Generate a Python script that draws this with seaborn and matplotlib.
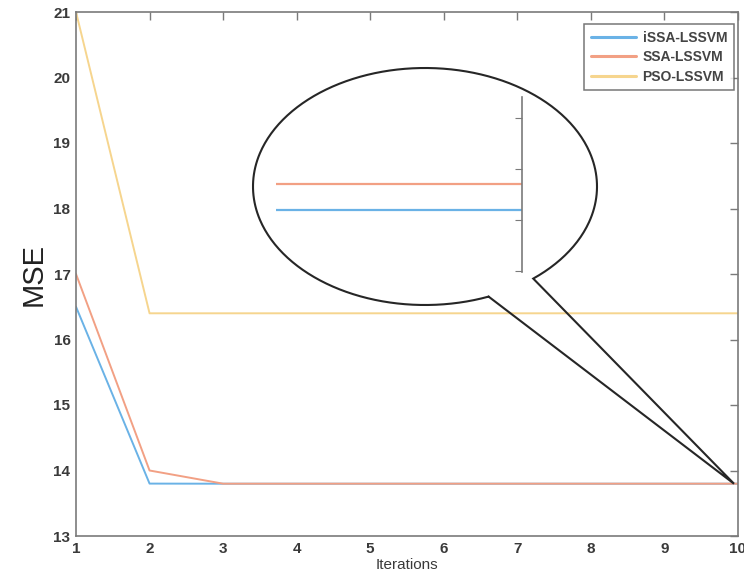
import numpy as np
import pandas as pd
import matplotlib
matplotlib.use("Agg")
import matplotlib.pyplot as plt
import seaborn as sns

# Data
iterations = [1, 2, 3, 4, 5, 6, 7, 8, 9, 10]
issa_lssvm = [16.5, 13.8, 13.7982, 13.7982, 13.7982, 13.7982, 13.7982, 13.7982, 13.7982, 13.7982]
ssa_lssvm = [17.0, 14.0, 13.7987, 13.7987, 13.7987, 13.7987, 13.7987, 13.7987, 13.7987, 13.7987]
pso_lssvm = [21.0, 16.4, 16.4, 16.4, 16.4, 16.4, 16.4, 16.4, 16.4, 16.4]
series_names = ["iSSA-LSSVM", "SSA-LSSVM", "PSO-LSSVM"]
colors = ["#6AB2E6", "#F2A084", "#F6D58E"]
inset_yticks = [13.797, 13.798, 13.799, 13.800]

df = pd.DataFrame({
    "Iterations": iterations * 3,
    "MSE": issa_lssvm + ssa_lssvm + pso_lssvm,
    "Model": [series_names[0]] * 10 + [series_names[1]] * 10 + [series_names[2]] * 10,
})

sns.set_style("white")
plt.rcParams["font.family"] = ["Liberation Sans", "DejaVu Sans"]
axis_gray = "#7a7a7a"
text_col = "#3a3a3a"

W, H = 744, 583
fig = plt.figure(figsize=(W / 100, H / 100), dpi=100)
ax = fig.add_axes([76 / W, 47 / H, 662 / W, 524 / H])

sns.lineplot(data=df, x="Iterations", y="MSE", hue="Model", palette=colors,
             linewidth=1.4, ax=ax, legend=True)
ax.set_xlim(1, 10)
ax.set_ylim(13, 21)
ax.set_xticks(range(1, 11))
ax.set_yticks(range(13, 22))
ax.tick_params(direction="in", length=6, width=1, color=axis_gray,
               top=True, right=True, labelsize=11, labelcolor=text_col, pad=4)
for lab in ax.get_xticklabels() + ax.get_yticklabels():
    lab.set_fontweight("bold")
for s in ax.spines.values():
    s.set_color(axis_gray)
    s.set_linewidth(1.2)
ax.set_xlabel("Iterations", fontsize=11, color=text_col, labelpad=2)
ax.set_ylabel("MSE", fontsize=21, color="#222222", labelpad=4)

leg = ax.legend(loc="upper right", frameon=True, fancybox=False,
                handlelength=3.3, handletextpad=0.45, borderpad=0.5,
                labelspacing=0.38, borderaxespad=0,
                bbox_to_anchor=(0.994, 0.977),
                prop={"weight": "bold", "size": 10})
leg.get_frame().set_edgecolor("#555555")
leg.get_frame().set_linewidth(1.1)
for txt in leg.get_texts():
    txt.set_color("#444444")
for ln in leg.get_lines():
    ln.set_linewidth(2.2)

# Zoomed inset inside the callout
ax_in = fig.add_axes([276 / W, (H - 272) / H, 246 / W, 175 / H])
ax_in.patch.set_alpha(0)
sns.lineplot(data=df[df["Model"] != series_names[2]], x="Iterations", y="MSE",
             hue="Model", palette=colors[:2], linewidth=1.6, ax=ax_in, legend=False)
ax_in.set_xlim(9, 10)
ax_in.set_ylim(inset_yticks[0] - 0.00002, inset_yticks[0] + 0.00341)
ax_in.set_yticks(inset_yticks)
ax_in.set_xticks([])
ax_in.yaxis.tick_right()
ax_in.tick_params(axis="y", direction="in", length=5, color=axis_gray,
                  labelright=False, labelleft=False)
for name, s in ax_in.spines.items():
    s.set_visible(name == "right")
    s.set_color(axis_gray)
    s.set_linewidth(1.2)
ax_in.set_xlabel("")
ax_in.set_ylabel("")

# Callout bubble drawn in pixel coordinates
ov = fig.add_axes([0, 0, 1, 1], zorder=5)
ov.set_xlim(0, W)
ov.set_ylim(H, 0)
ov.axis("off")
ov.patch.set_alpha(0)

tip = ax.transData.transform((iterations[-1], issa_lssvm[-1]))
tip_x, tip_y = tip[0] - 4, H - tip[1]
cx, cy, a, b = 425, 186.5, 172, 118.5
t = np.radians(np.linspace(68.3, 411, 400))
bx = list(cx + a * np.cos(t)) + [tip_x, cx + a * np.cos(t[0])]
by = list(cy + b * np.sin(t)) + [tip_y, cy + b * np.sin(t[0])]
ov.plot(bx, by, color="#262626", linewidth=1.5, solid_joinstyle="miter")

fig.savefig("out.png", dpi=100)
